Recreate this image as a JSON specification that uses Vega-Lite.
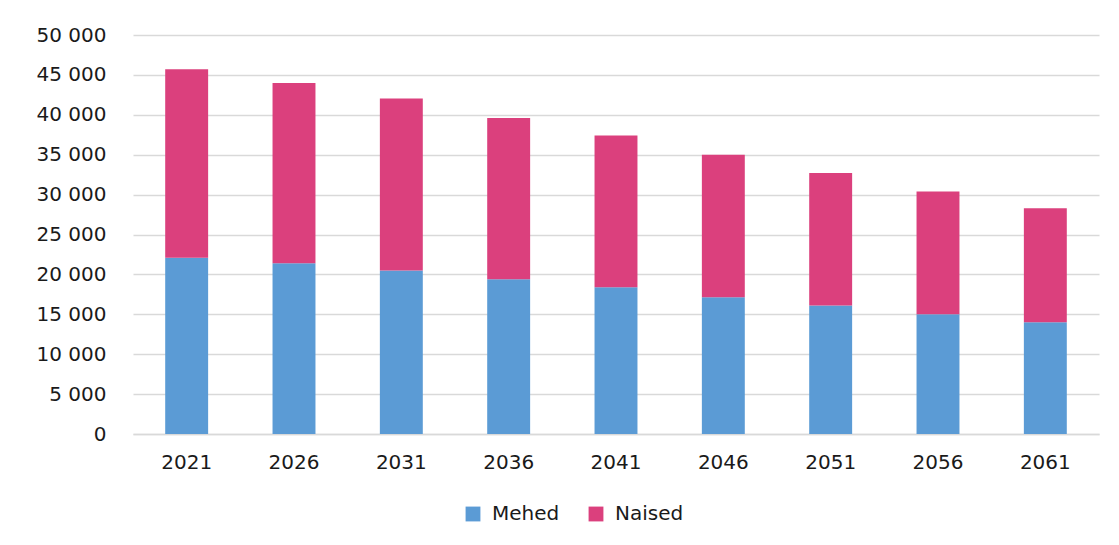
{
  "$schema": "https://vega.github.io/schema/vega-lite/v6.json",
  "width": 966,
  "height": 399,
  "autosize": {"type": "none"},
  "padding": {"left": 133, "top": 35, "right": 20, "bottom": 111},
  "background": "white",
  "config": {
    "locale": {"number": {"decimal": ",", "thousands": " ", "grouping": [3], "currency": ["", " €"]}},
    "font": "DejaVu Sans",
    "view": {"stroke": null}
  },
  "data": {
    "values": [
      {"aasta": "2021", "sugu": "Mehed", "arv": 22100},
      {"aasta": "2021", "sugu": "Naised", "arv": 23600},
      {"aasta": "2026", "sugu": "Mehed", "arv": 21400},
      {"aasta": "2026", "sugu": "Naised", "arv": 22600},
      {"aasta": "2031", "sugu": "Mehed", "arv": 20500},
      {"aasta": "2031", "sugu": "Naised", "arv": 21550},
      {"aasta": "2036", "sugu": "Mehed", "arv": 19400},
      {"aasta": "2036", "sugu": "Naised", "arv": 20200},
      {"aasta": "2041", "sugu": "Mehed", "arv": 18400},
      {"aasta": "2041", "sugu": "Naised", "arv": 19000},
      {"aasta": "2046", "sugu": "Mehed", "arv": 17150},
      {"aasta": "2046", "sugu": "Naised", "arv": 17850},
      {"aasta": "2051", "sugu": "Mehed", "arv": 16100},
      {"aasta": "2051", "sugu": "Naised", "arv": 16600},
      {"aasta": "2056", "sugu": "Mehed", "arv": 15000},
      {"aasta": "2056", "sugu": "Naised", "arv": 15400},
      {"aasta": "2061", "sugu": "Mehed", "arv": 14000},
      {"aasta": "2061", "sugu": "Naised", "arv": 14300}
    ]
  },
  "mark": {"type": "bar"},
  "encoding": {
    "x": {
      "field": "aasta",
      "type": "nominal",
      "scale": {"paddingInner": 0.6, "paddingOuter": 0.3},
      "axis": {
        "title": null,
        "labelAngle": 0,
        "labelFontSize": 20,
        "labelColor": "#1a1a1a",
        "labelPadding": 18,
        "ticks": false,
        "domainColor": "#d9d9d9",
        "domainWidth": 1.5
      }
    },
    "y": {
      "field": "arv",
      "type": "quantitative",
      "stack": "zero",
      "scale": {"domain": [0, 50000]},
      "axis": {
        "title": null,
        "values": [0, 5000, 10000, 15000, 20000, 25000, 30000, 35000, 40000, 45000, 50000],
        "format": ",d",
        "labelFontSize": 20,
        "labelColor": "#1a1a1a",
        "labelPadding": 27,
        "ticks": false,
        "domain": false,
        "gridColor": "#d9d9d9",
        "gridWidth": 1.5
      }
    },
    "color": {
      "field": "sugu",
      "type": "nominal",
      "scale": {"domain": ["Mehed", "Naised"], "range": ["#5B9BD5", "#DB407D"]},
      "legend": {
        "title": null,
        "orient": "none",
        "legendX": 330,
        "legendY": 469,
        "direction": "horizontal",
        "symbolType": "square",
        "symbolSize": 220,
        "symbolStrokeWidth": 0,
        "labelFontSize": 20,
        "labelColor": "#1a1a1a",
        "labelOffset": 9,
        "columnPadding": 26
      }
    },
    "order": {"field": "sugu", "sort": "ascending"}
  }
}
